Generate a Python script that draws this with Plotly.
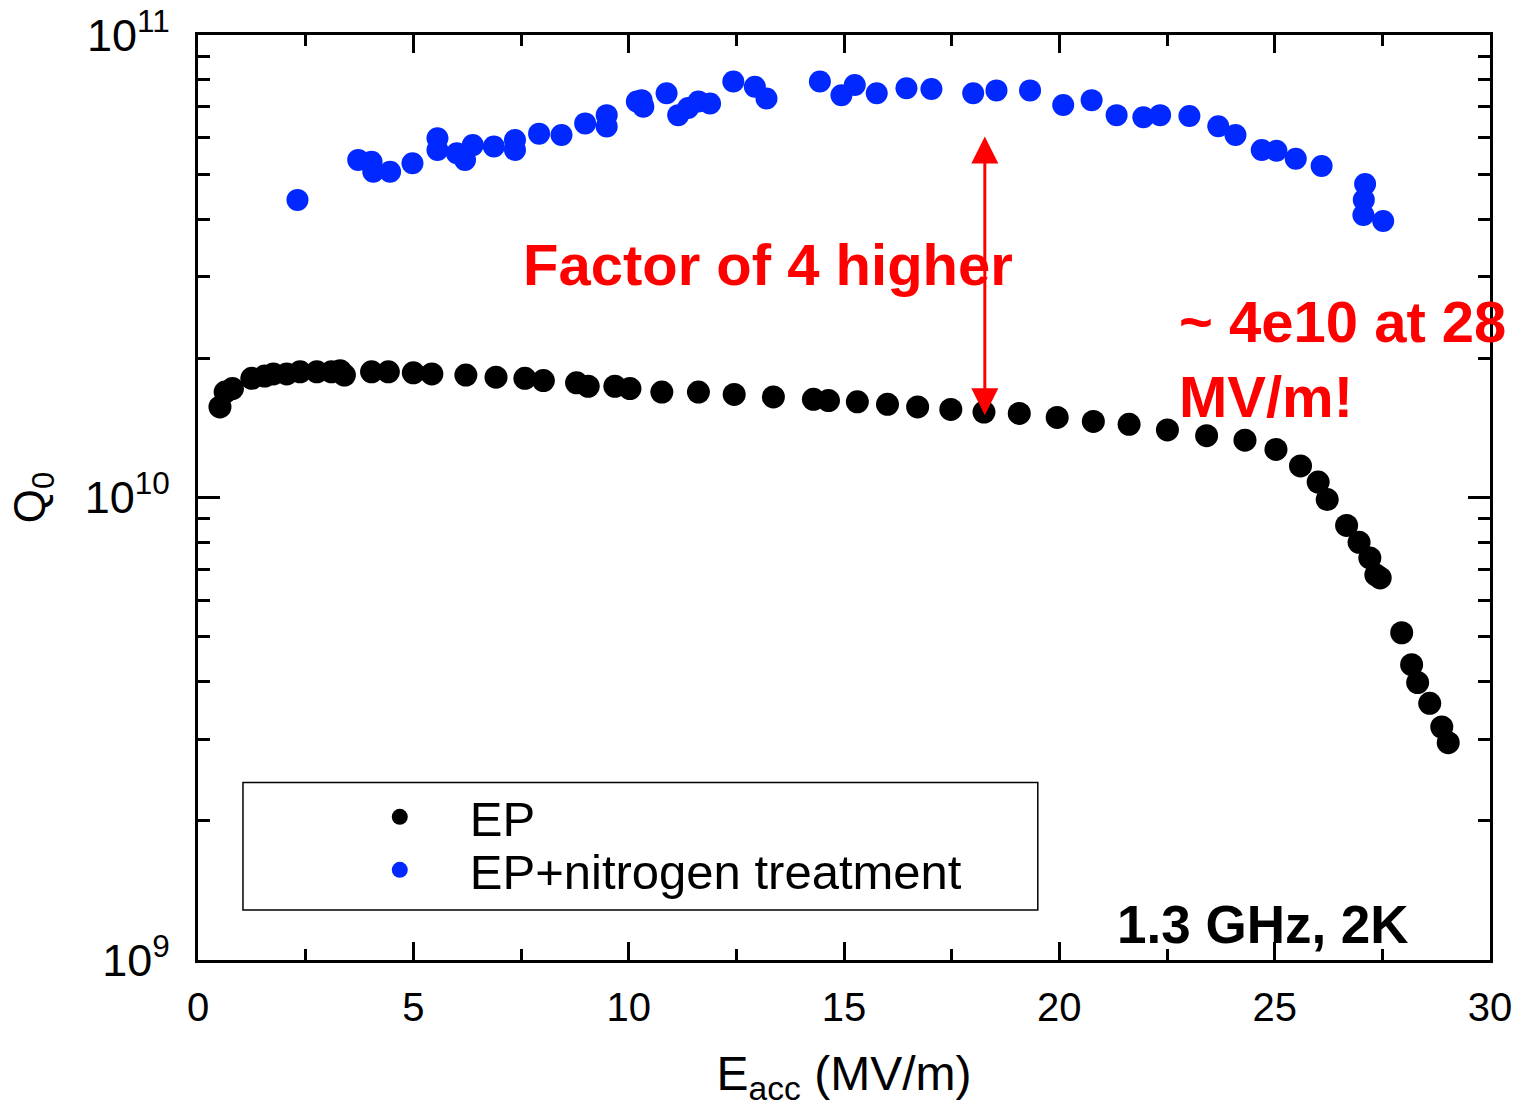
import plotly.graph_objects as go

# EP (black) data: E_acc (MV/m), Q0
ep_x = [0.51, 0.63, 0.80, 1.25, 1.55, 1.75, 2.06, 2.37, 2.76, 3.10, 3.30, 3.40,
        4.03, 4.42, 5.00, 5.43, 6.22, 6.92, 7.59, 8.02, 8.79, 9.06, 9.68, 10.03,
        10.77, 11.62, 12.45, 13.36, 14.29, 14.64, 15.31, 16.01, 16.71, 17.48,
        18.25, 19.07, 19.95, 20.79, 21.62, 22.51, 23.42, 24.31, 25.03, 25.60,
        26.01, 26.22, 26.67, 26.96, 27.21, 27.35, 27.45, 27.95, 28.18, 28.32,
        28.60, 28.88, 29.03]
ep_q = [1.57e10, 1.69e10, 1.72e10, 1.81e10, 1.83e10, 1.85e10, 1.85e10, 1.87e10,
        1.87e10, 1.87e10, 1.88e10, 1.84e10, 1.87e10, 1.87e10, 1.86e10, 1.85e10,
        1.84e10, 1.82e10, 1.81e10, 1.79e10, 1.77e10, 1.74e10, 1.74e10, 1.72e10,
        1.69e10, 1.69e10, 1.67e10, 1.65e10, 1.63e10, 1.62e10, 1.61e10, 1.59e10,
        1.57e10, 1.55e10, 1.53e10, 1.52e10, 1.49e10, 1.46e10, 1.44e10, 1.40e10,
        1.36e10, 1.33e10, 1.27e10, 1.17e10, 1.08e10, 9.9e9, 8.7e9, 8.0e9, 7.4e9,
        6.8e9, 6.7e9, 5.1e9, 4.35e9, 3.98e9, 3.59e9, 3.19e9, 2.95e9]

# EP + nitrogen treatment (blue) data
n_x = [2.31, 3.72, 4.03, 4.07, 4.46, 4.98, 5.56, 5.56, 6.01, 6.20, 6.38, 6.87,
       7.36, 7.36, 7.92, 8.44, 8.99, 9.49, 9.49, 10.19, 10.30, 10.34, 10.88,
       11.15, 11.38, 11.62, 11.89, 12.43, 12.93, 13.20, 14.44, 14.94, 15.25,
       15.76, 16.45, 17.03, 18.00, 18.54, 19.32, 20.09, 20.75, 21.33, 21.95,
       22.34, 23.02, 23.69, 24.09, 24.70, 25.04, 25.49, 26.09, 27.10, 27.07,
       27.06, 27.52]
n_q = [4.40e10, 5.37e10, 5.32e10, 5.06e10, 5.06e10, 5.28e10, 5.98e10, 5.64e10,
       5.55e10, 5.37e10, 5.78e10, 5.74e10, 5.93e10, 5.64e10, 6.12e10, 6.08e10,
       6.44e10, 6.71e10, 6.34e10, 7.18e10, 7.23e10, 7.00e10, 7.48e10, 6.71e10,
       6.95e10, 7.18e10, 7.11e10, 7.93e10, 7.73e10, 7.29e10, 7.93e10, 7.41e10,
       7.80e10, 7.48e10, 7.67e10, 7.64e10, 7.48e10, 7.59e10, 7.59e10, 7.06e10,
       7.23e10, 6.71e10, 6.64e10, 6.71e10, 6.68e10, 6.35e10, 6.08e10, 5.64e10,
       5.62e10, 5.40e10, 5.21e10, 4.76e10, 4.40e10, 4.08e10, 3.96e10]

x_ticks = [0, 5, 10, 15, 20, 25, 30]
x_tick_labels = ["0", "5", "10", "15", "20", "25", "30"]

FONT = "Liberation Sans, Arial, sans-serif"
BLUE = "rgb(0,40,255)"

fig = go.Figure()
fig.add_trace(go.Scatter(x=ep_x, y=ep_q, mode="markers", name="EP", legend="legend",
                         marker=dict(color="black", size=23, line=dict(width=0))))
fig.add_trace(go.Scatter(x=n_x, y=n_q, mode="markers", name="EP+nitrogen treatment",
                         legend="legend2",
                         marker=dict(color=BLUE, size=22, line=dict(width=0))))

leg_common = dict(xanchor="left", yanchor="middle", bgcolor="rgba(0,0,0,0)",
                  borderwidth=0, font=dict(family=FONT, size=49, color="black"),
                  itemwidth=130)

fig.update_layout(
    width=1520, height=1107,
    margin=dict(l=198, r=30, t=35, b=147, autoexpand=False),
    paper_bgcolor="white", plot_bgcolor="white",
    font=dict(family=FONT, color="black"),
    showlegend=True,
    legend=dict(x=0.102, y=0.1546, **leg_common),
    legend2=dict(x=0.102, y=0.0973, **leg_common),
    xaxis=dict(range=[0, 30], tickvals=x_ticks, ticktext=x_tick_labels,
               showgrid=False, zeroline=False, automargin=False,
               showline=True, linecolor="black", linewidth=3, mirror="allticks",
               ticks="inside", ticklen=18, tickwidth=3, tickcolor="black",
               minor=dict(dtick=2.5, ticks="inside", ticklen=11, tickwidth=3,
                          tickcolor="black", showgrid=False),
               tickfont=dict(family=FONT, size=40, color="black"),
               ticklabelstandoff=10, ticklabeloverflow="allow",
               title=dict(text="E<sub>acc</sub> (MV/m)", standoff=30,
                          font=dict(family=FONT, size=48, color="black"))),
    yaxis=dict(type="log", range=[9, 11], dtick=1, exponentformat="power",
               showgrid=False, zeroline=False, automargin=False,
               showline=True, linecolor="black", linewidth=3, mirror="allticks",
               ticks="inside", ticklen=22, tickwidth=3, tickcolor="black",
               minor=dict(dtick="D1", ticks="inside", ticklen=12, tickwidth=3,
                          tickcolor="black", showgrid=False),
               tickfont=dict(family=FONT, size=36, color="black"),
               ticklabelstandoff=18, ticklabeloverflow="allow",
               title=dict(text="Q<sub>0</sub>", standoff=26,
                          font=dict(family=FONT, size=44, color="black"))),
)

# legend frame
fig.add_shape(type="rect", xref="paper", yref="paper",
              x0=0.0348, x1=0.650, y0=0.054, y1=0.192,
              line=dict(color="black", width=1.5), fillcolor="rgba(0,0,0,0)")

# double-headed arrow
fig.add_annotation(x=18.27, y=0.589, xref="x", yref="y domain",
                   ax=18.27, ay=0.892, axref="x", ayref="y domain",
                   text="", showarrow=True, arrowside="end+start",
                   arrowhead=2, startarrowhead=2, arrowsize=1.8, startarrowsize=1.8,
                   arrowwidth=3, arrowcolor="red")

fig.add_annotation(x=0.441, y=0.752, xref="paper", yref="paper",
                   xanchor="center", yanchor="middle",
                   text="<b>Factor of 4 higher</b>", showarrow=False,
                   font=dict(family=FONT, size=58, color="red"))
fig.add_annotation(x=0.758, y=0.650, xref="paper", yref="paper",
                   xanchor="left", yanchor="middle", align="left",
                   text="<b>~ 4e10 at 28<br>MV/m!</b>", showarrow=False,
                   font=dict(family=FONT, size=58, color="red"))
fig.add_annotation(x=0.710, y=0.038, xref="paper", yref="paper",
                   xanchor="left", yanchor="middle",
                   text="<b>1.3 GHz, 2K</b>", showarrow=False,
                   font=dict(family=FONT, size=53, color="black"))

fig.write_html("out.html", config={"displayModeBar": False},
               post_script="document.body.style.margin='0px';document.body.style.padding='0px';")
